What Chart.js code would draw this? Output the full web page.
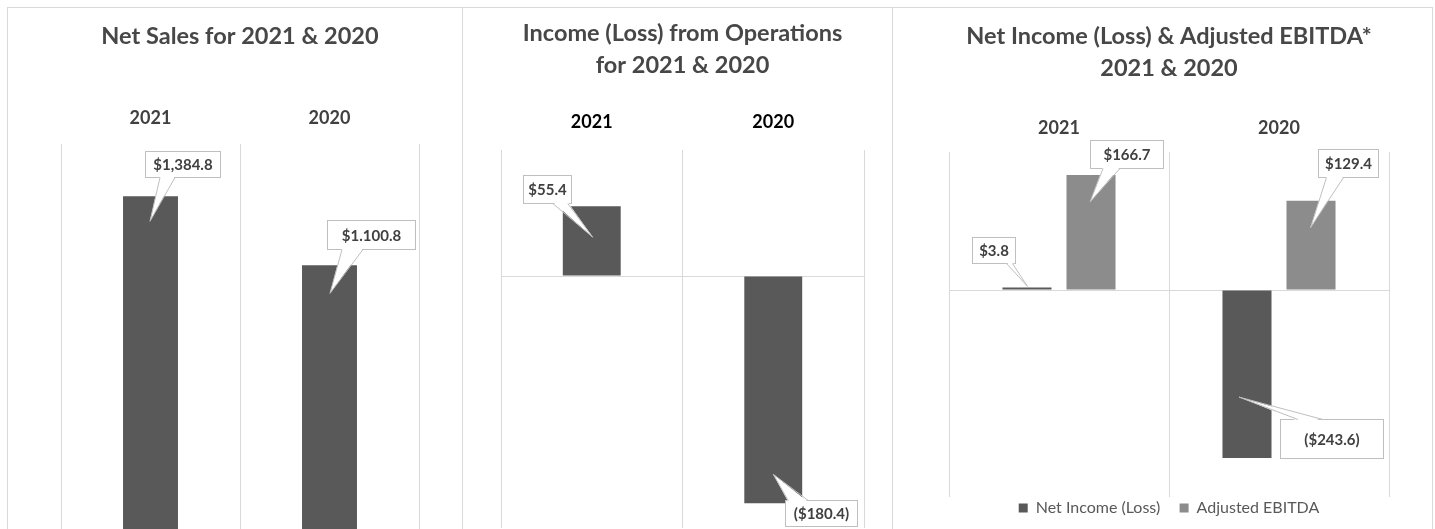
<!DOCTYPE html>
<html>
<head>
<meta charset="utf-8">
<script src="https://cdn.jsdelivr.net/npm/chart.js@4.4.0/dist/chart.umd.min.js"></script>
<style>
  html, body { margin: 0; padding: 0; background: #fff; overflow: hidden; }
  body { width: 1435px; height: 529px; position: relative; }
  .panel { position: absolute; top: 7px; height: 545px; box-sizing: border-box; border: 1px solid #d9d9d9; border-bottom: none; }
  .panel canvas { position: absolute; left: 0; top: 0; }
</style>
</head>
<body>
<div class="panel" style="left:7px;width:456px"><canvas id="sales" width="454" height="532"></canvas></div>
<div class="panel" style="left:462px;width:431px"><canvas id="ops" width="429" height="532"></canvas></div>
<div class="panel" style="left:892px;width:541px"><canvas id="income" width="539" height="521"></canvas></div>
<script>
// data ($ millions)
const years = ['2021', '2020'];
const netSales = [1384.8, 1100.8];
const netSalesText = ['$1,384.8', '$1.100.8'];
const opsIncome = [55.4, -180.4];
const opsIncomeText = ['$55.4', '($180.4)'];
const netIncome = [3.8, -243.6];
const netIncomeText = ['$3.8', '($243.6)'];
const adjEbitda = [166.7, 129.4];
const adjEbitdaText = ['$166.7', '$129.4'];

const DARK = '#595959';
const LIGHT = '#8c8c8c';
const GRID = '#d9d9d9';

Chart.defaults.font.family = "Lato, 'DejaVu Sans', sans-serif";
Chart.defaults.animation = false;

// excel style callout boxes; offsets are relative to the end of each bar
const calloutPlugin = {
    id: 'callouts',
    afterDatasetsDraw(chart, args, opts) {
        const ctx = chart.ctx;
        chart.data.datasets.forEach((ds, di) => {
            const meta = chart.getDatasetMeta(di);
            meta.data.forEach((bar, i) => {
                const c = opts.boxes[di][i];
                const cx = bar.x + c.dx, cy = bar.y + c.dy;
                const left = Math.round(cx - c.w / 2), top = Math.round(cy - c.h / 2);
                const tipX = bar.x + c.tx, tipY = bar.y + c.ty;
                const below = tipY > cy;
                const edgeY = below ? top + c.h - 0.5 : top + 0.5;
                ctx.save();
                ctx.fillStyle = '#fff';
                ctx.strokeStyle = '#bfbfbf';
                ctx.lineWidth = 1;
                ctx.fillRect(left, top, c.w, c.h);
                ctx.strokeRect(left + 0.5, top + 0.5, c.w - 1, c.h - 1);
                // pointer
                ctx.beginPath();
                ctx.moveTo(cx + c.b1, edgeY + (below ? -1.5 : 1.5));
                ctx.lineTo(tipX, tipY);
                ctx.lineTo(cx + c.b2, edgeY + (below ? -1.5 : 1.5));
                ctx.closePath();
                ctx.fill();
                ctx.beginPath();
                ctx.moveTo(cx + c.b1, edgeY);
                ctx.lineTo(tipX, tipY);
                ctx.lineTo(cx + c.b2, edgeY);
                ctx.stroke();
                ctx.fillStyle = '#404040';
                ctx.font = "bold 15px Lato, 'DejaVu Sans', sans-serif";
                ctx.textAlign = 'center';
                ctx.textBaseline = 'middle';
                ctx.fillText(ds.valueLabels[i], left + c.w / 2, top + c.h / 2 + 1);
                ctx.restore();
            });
        });
    }
};

function xAxis(color, pad) {
    return {
        position: 'top',
        grid: { color: GRID, drawTicks: false, offset: true },
        border: { display: false },
        ticks: { color: color, padding: pad, font: { size: 18, weight: 'bold' } },
        afterFit: s => { s.height = 40; }
    };
}

function yAxis(min, max, step) {
    return {
        min: min,
        max: max,
        grid: { drawTicks: false, color: c => c.tick.value === 0 ? GRID : 'rgba(0,0,0,0)' },
        border: { display: false },
        ticks: { display: false, stepSize: step },
        afterFit: s => { s.width = 0; }
    };
}

function titleOpts(text, lineHeight, bottom) {
    return {
        display: true,
        text: text,
        color: '#474747',
        font: { size: 23.5, weight: 'bold', lineHeight: lineHeight },
        padding: { top: 0, bottom: bottom }
    };
}

new Chart(document.getElementById('sales'), {
    type: 'bar',
    data: {
        labels: years,
        datasets: [{
            label: 'Net Sales',
            data: netSales,
            valueLabels: netSalesText,
            backgroundColor: DARK,
            borderWidth: 0,
            categoryPercentage: 1,
            barPercentage: 0.307
        }]
    },
    plugins: [calloutPlugin],
    options: {
        responsive: false,
        layout: { padding: { top: 15, left: 53, right: 43, bottom: 7 } },
        scales: { x: xAxis('#404040', 15), y: yAxis(0, 1600, 200) },
        plugins: {
            title: titleOpts('Net Sales for 2021 & 2020', '26.4px', 54.6),
            legend: { display: false },
            tooltip: { enabled: false },
            callouts: {
                boxes: [[
                    { dx: 32.5, dy: -31.5, w: 76, h: 27, tx: -0.5, ty: 25, b1: -23, b2: -8 },
                    { dx: 42, dy: -30, w: 89, h: 30, tx: 0.5, ty: 28, b1: -29.5, b2: -8.5 }
                ]]
            }
        }
    }
});

new Chart(document.getElementById('ops'), {
    type: 'bar',
    data: {
        labels: years,
        datasets: [{
            label: 'Income (Loss) from Operations',
            data: opsIncome,
            valueLabels: opsIncomeText,
            backgroundColor: DARK,
            borderWidth: 0,
            categoryPercentage: 1,
            barPercentage: 0.319
        }]
    },
    plugins: [calloutPlugin],
    options: {
        responsive: false,
        layout: { padding: { top: 10, left: 38, right: 28, bottom: 12 } },
        scales: { x: xAxis('#000000', 17), y: yAxis(-200, 100, 50) },
        plugins: {
            title: titleOpts(['Income (Loss) from Operations', 'for 2021 & 2020'], '31.5px', 29),
            legend: { display: false },
            tooltip: { enabled: false },
            callouts: {
                boxes: [[
                    { dx: -44.5, dy: -16.5, w: 49, h: 29, tx: 1, ty: 31, b1: 5.5, b2: 20.5 },
                    { dx: 48.5, dy: 10.5, w: 73, h: 27, tx: 0, ty: -29, b1: -33.5, b2: -13.5 }
                ]]
            }
        }
    }
});

new Chart(document.getElementById('income'), {
    type: 'bar',
    data: {
        labels: years,
        datasets: [{
            label: 'Net Income (Loss)',
            data: netIncome,
            valueLabels: netIncomeText,
            backgroundColor: DARK,
            borderWidth: 0,
            categoryPercentage: 0.582,
            barPercentage: 0.766
        }, {
            label: 'Adjusted EBITDA',
            data: adjEbitda,
            valueLabels: adjEbitdaText,
            backgroundColor: LIGHT,
            borderWidth: 0,
            categoryPercentage: 0.582,
            barPercentage: 0.766
        }]
    },
    plugins: [calloutPlugin],
    options: {
        responsive: false,
        layout: { padding: { top: 12, left: 56, right: 43, bottom: 3 } },
        scales: { x: xAxis('#404040', 13), y: yAxis(-300, 200, 100) },
        plugins: {
            title: titleOpts(['Net Income (Loss) & Adjusted EBITDA*', '2021 & 2020'], '32px', 28),
            legend: {
                display: true,
                position: 'bottom',
                labels: {
                    color: '#595959',
                    font: { size: 16 },
                    boxWidth: 9,
                    boxHeight: 9,
                    padding: 3,
                    // widen the gap between the two entries without moving the row down
                    generateLabels: chart => {
                        const items = Chart.defaults.plugins.legend.labels.generateLabels(chart);
                        items[0].text = items[0].text + '    ';
                        return items;
                    }
                }
            },
            tooltip: { enabled: false },
            callouts: {
                boxes: [[
                    { dx: -32.5, dy: -36.5, w: 44, h: 27, tx: 0.5, ty: -1, b1: 12, b2: 18 },
                    { dx: 85, dy: -19, w: 104, h: 40, tx: -8, ty: -61, b1: -34, b2: -9 }
                ], [
                    { dx: 36, dy: -20.5, w: 74, h: 29, tx: -1, ty: 27, b1: -24, b2: -7 },
                    { dx: 37, dy: -37.5, w: 61, h: 29, tx: -0.5, ty: 27, b1: -21.5, b2: -4.5 }
                ]]
            }
        }
    }
});
</script>
</body>
</html>
